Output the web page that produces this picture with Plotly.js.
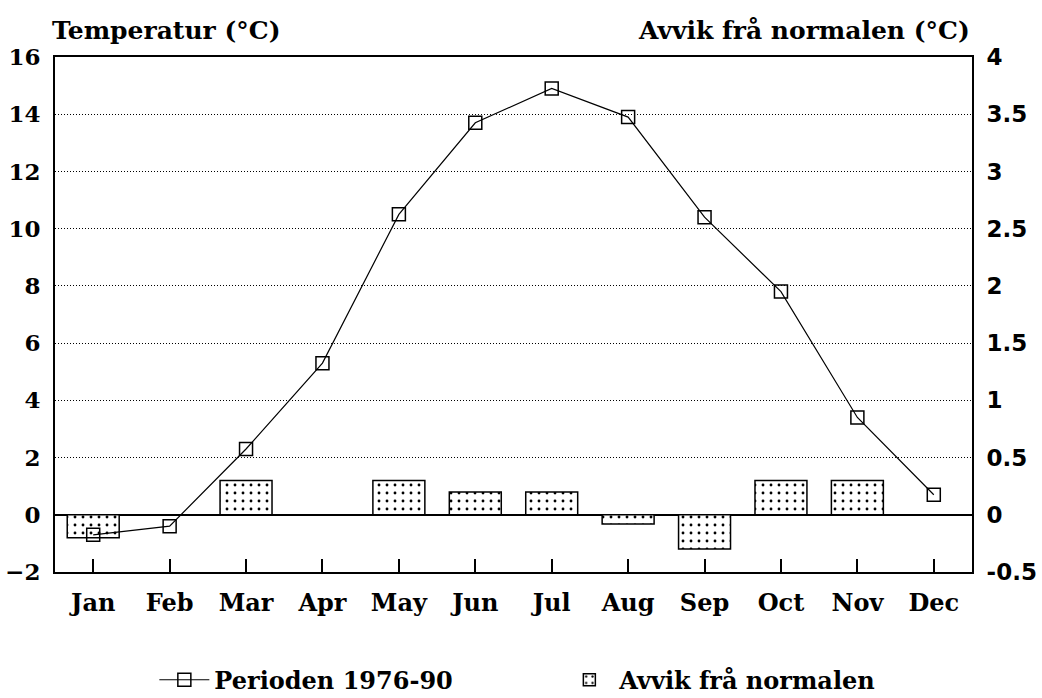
<!DOCTYPE html>
<html>
<head>
<meta charset="utf-8">
<script src="https://cdn.plot.ly/plotly-3.0.1.min.js"></script>
<style>html,body{margin:0;padding:0;background:#fff;}</style>
</head>
<body>
<div id="chart" style="width:1042px;height:698px;"></div>
<script>
const months = ["Jan","Feb","Mar","Apr","May","Jun","Jul","Aug","Sep","Oct","Nov","Dec"];
const temperature = [-0.7, -0.4, 2.3, 5.3, 10.5, 13.7, 14.9, 13.9, 10.4, 7.8, 3.4, 0.7];
const deviation = [-0.2, 0, 0.3, 0, 0.3, 0.2, 0.2, -0.08, -0.3, 0.3, 0.3, 0];
const leftTicks = [-2, 0, 2, 4, 6, 8, 10, 12, 14, 16];
const rightTicks = [-0.5, 0, 0.5, 1, 1.5, 2, 2.5, 3, 3.5, 4];
const rightTickText = ["-0.5","0","0.5","1","1.5","2","2.5","3","3.5","4"];

const FONT = "DejaVu Serif";

const bars = {
  type: "bar",
  x: months,
  y: deviation,
  yaxis: "y",
  name: "Avvik frå normalen",
  width: 0.68,
  marker: {
    color: "#ffffff",
    line: {color: "#000", width: 1.5},
    pattern: {shape: ".", fgcolor: "#000", bgcolor: "#fff", size: 8, solidity: 0.1}
  },
  legendrank: 2
};
const line = {
  type: "scatter",
  mode: "lines+markers",
  x: months,
  y: temperature,
  yaxis: "y2",
  name: "Perioden 1976-90",
  line: {color: "#000", width: 1.2},
  marker: {symbol: "square-open", size: 13, color: "#000", line: {width: 1.5}},
  legendrank: 1
};

const layout = {
  width: 1042, height: 698,
  paper_bgcolor: "#fff", plot_bgcolor: "#fff",
  margin: {l: 55, r: 70, t: 57, b: 126, autoexpand: false},
  font: {family: FONT, color: "#000", size: 20},
  showlegend: true,
  legend: {orientation: "h", x: 0.55, xanchor: "center", y: -0.21, yanchor: "middle",
           font: {family: FONT, size: 24, weight: "bold"}, itemwidth: 50,
           entrywidth: 340, traceorder: "normal"},
  bargap: 0.3,
  xaxis: {
    type: "category", range: [-0.5, 11.5],
    showline: true, linecolor: "#000", linewidth: 2, mirror: true,
    ticks: "inside", ticklen: 13, tickwidth: 2, tickcolor: "#000",
    showgrid: false, ticklabelstandoff: 8,
    tickfont: {family: FONT, size: 24, weight: "bold"}
  },
  yaxis: {
    side: "right", range: [-0.5, 4],
    tickvals: rightTicks, ticktext: rightTickText,
    showline: true, linecolor: "#000", linewidth: 2,
    ticks: "", showgrid: true, gridcolor: "#000", griddash: "1px,2px", gridwidth: 1,
    zeroline: true, zerolinecolor: "#000", zerolinewidth: 1.5,
    ticklabelstandoff: 8,
    tickfont: {family: "DejaVu Sans", size: 23, weight: "bold"}
  },
  yaxis2: {
    overlaying: "y", side: "left", range: [-2, 16],
    tickvals: leftTicks,
    showline: true, linecolor: "#000", linewidth: 2,
    ticks: "", showgrid: false, zeroline: false,
    ticklabelstandoff: 8,
    tickfont: {family: FONT, size: 23, weight: "bold"}
  },
  annotations: [
    {text: "Temperatur (°C)", xref: "paper", yref: "paper", x: -0.005, y: 1.02,
     xanchor: "left", yanchor: "bottom", showarrow: false,
     font: {family: FONT, size: 25, weight: "bold"}},
    {text: "Avvik frå normalen (°C)", xref: "paper", yref: "paper", x: 1.0, y: 1.02,
     xanchor: "right", yanchor: "bottom", showarrow: false,
     font: {family: FONT, size: 25, weight: "bold"}}
  ]
};

Plotly.newPlot("chart", [bars, line], layout, {displayModeBar: false, staticPlot: true});
</script>
</body>
</html>
